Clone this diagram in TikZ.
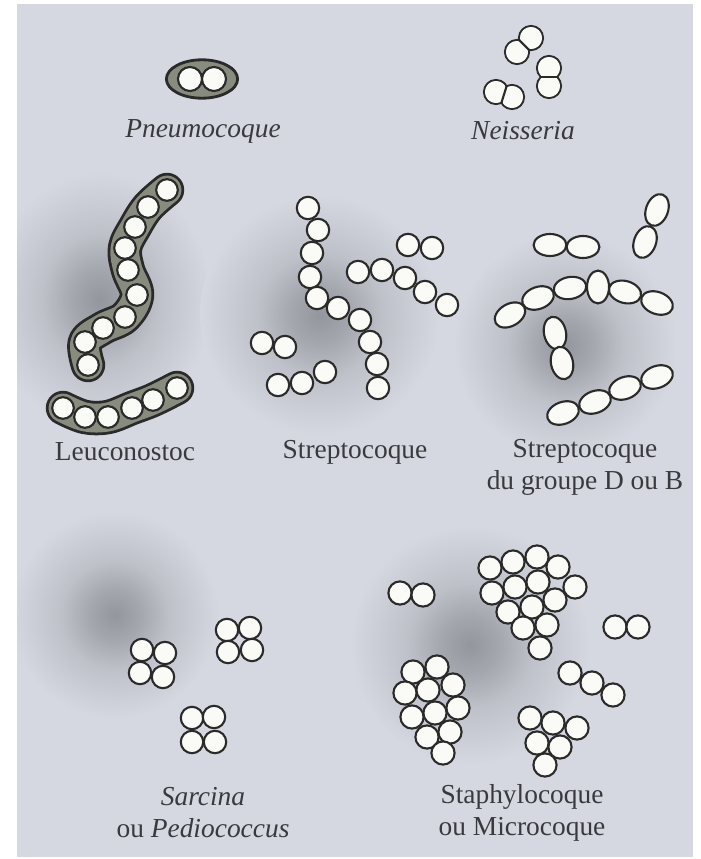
\documentclass[tikz,border=0pt]{standalone}
\usepackage{fontspec}
\setmainfont{Liberation Serif}
\usetikzlibrary{calc}
\definecolor{panel}{RGB}{213, 216, 224}
\definecolor{shadow}{RGB}{148, 150, 158}
\definecolor{rim}{RGB}{42, 42, 42}
\definecolor{slime}{RGB}{135, 140, 126}
\definecolor{cellwhite}{RGB}{250, 250, 246}
\definecolor{ink}{RGB}{58, 58, 62}
\pgfdeclareradialshading{halo}{\pgfpointorigin}{color(0bp)=(shadow); color(6bp)=(shadow!75!panel); color(13bp)=(shadow!35!panel); color(25bp)=(panel); color(50bp)=(panel)}

\tikzset{
  cell/.style    = {draw=rim, fill=cellwhite, line width=1.5pt},
  germname/.style = {text=ink, font=\fontsize{19.5}{22.7}\selectfont, align=center},
}

% a pair of flattened halves, centres (#1,#2) and (#3,#4)
\newcommand\diplo[4]{%
  \draw[cell] (#1,#2) circle (0.3cm) (#3,#4) circle (0.3cm);
  \fill[cellwhite] (#1,#2) circle (0.276cm) (#3,#4) circle (0.276cm);
  \begin{scope}
    \clip (#1,#2) circle (0.3cm) (#3,#4) circle (0.3cm);
    \draw[rim, line width=1.5pt] ($(#1,#2)!.5!(#3,#4)!1cm!90:(#3,#4)$) -- ($(#1,#2)!.5!(#3,#4)!1cm!-90:(#3,#4)$);
  \end{scope}}

\begin{document}
\begin{tikzpicture}[x=0.025cm, y=-0.025cm]
            \useasboundingbox (0,0) rectangle (701,859);
            % Plate
            \fill[panel] (17,4) rectangle (693,857);
            % Soft shadows under the groups, kept on the plate
            \begin{scope}
              \clip (17,4) rectangle (693,857);
              \shade[shading=halo] (100,300) ellipse (2.8cm and 3.2cm);
              \shade[shading=halo] (320,315) ellipse (3.0cm and 3.0cm);
              \shade[shading=halo] (565,345) ellipse (2.8cm and 2.8cm);
              \shade[shading=halo] (115,615) ellipse (2.6cm and 2.6cm);
              \shade[shading=halo] (470,645) ellipse (3.0cm and 3.0cm);
            \end{scope}

            % Pneumocoque
            \filldraw[draw=rim, fill=slime, line width=2pt] (202,79) ellipse (0.89cm and 0.48cm);
            \draw[cell] (190,79) circle (0.3cm);
            \draw[cell] (214,79) circle (0.3cm);
            \node[germname, font=\fontsize{19.5}{22.7}\selectfont\itshape] (pneumo) at (203,131) {Pneumocoque};

            % Neisseria
            \diplo{517}{52}{531}{38}
            \diplo{549}{68}{549}{86}
            \diplo{496}{92}{512}{97}
            \node[germname, font=\fontsize{19.5}{22.7}\selectfont\itshape] (neiss) at (523,131) {Neisseria};

            % Leuconostoc: chains inside a capsule
            \draw[rim, line width=0.86cm, line cap=round, line join=round]
                 plot[smooth, tension=0.6] coordinates {(167,190) (148,207) (135,227) (125,248) (128,270) (137,295) (125,317) (103,328) (85,342) (88,365)};
            \draw[slime, line width=0.72cm, line cap=round, line join=round]
                 plot[smooth, tension=0.6] coordinates {(167,190) (148,207) (135,227) (125,248) (128,270) (137,295) (125,317) (103,328) (85,342) (88,365)};
            \draw[rim, line width=0.86cm, line cap=round, line join=round]
                 plot[smooth, tension=0.6] coordinates {(63,408) (85,417) (108,417) (132,408) (153,400) (177,388)};
            \draw[slime, line width=0.72cm, line cap=round, line join=round]
                 plot[smooth, tension=0.6] coordinates {(63,408) (85,417) (108,417) (132,408) (153,400) (177,388)};
            \foreach \x/\y in {167/190, 148/207, 135/227, 125/248, 128/270, 137/295, 125/317, 103/328, 85/342, 88/365,
                               63/408, 85/417, 108/417, 132/408, 153/400, 177/388}
              \draw[cell] (\x,\y) circle (0.27cm);
            \node[germname] (leuco) at (125,452) {Leuconostoc};

            % Streptocoque
            \foreach \x/\y in {308/208, 318/230, 312/253, 310/277, 317/298, 338/308, 360/320, 370/342, 377/364, 378/388,
                               408/245, 432/248,
                               358/272, 382/270, 405/278, 425/292, 447/305,
                               262/343, 285/347,
                               278/385, 302/383, 325/372}
              \draw[cell] (\x,\y) circle (0.28cm);
            \node[germname] (strepto) at (355,452) {Streptocoque};

            % Streptocoque du groupe D ou B
            \foreach \x/\y/\a in {550/245/0, 583/247/0,
                                  657/210/70, 645/242/70,
                                  510/315/30, 538/298/20, 570/288/10, 598/287/90, 625/292/-15, 657/303/-20,
                                  555/333/-78, 562/363/-78,
                                  563/413/20, 595/402/20, 625/388/20, 657/377/20}
              \draw[cell, rotate around={\a:(\x,\y)}] (\x,\y) ellipse (0.41cm and 0.275cm);
            \node[germname] (streptoD) at (585,467) {Streptocoque\\du groupe D ou B};

            % Sarcina ou Pediococcus: tetrads
            \foreach \x/\y in {142/650, 165/653, 140/673, 163/677,
                               227/630, 250/628, 228/652, 252/650,
                               192/718, 214/717, 192/742, 215/742}
              \draw[cell] (\x,\y) circle (0.28cm);
            \node[germname] (sarcina) at (203,813) {\textit{Sarcina}\\ou \textit{Pediococcus}};

            % Staphylocoque ou Microcoque: clusters
            \foreach \x/\y in {490/568, 513/562, 537/557, 558/567, 492/593, 515/587, 538/582, 575/587,
                               508/612, 532/607, 555/600, 523/628, 547/625, 540/648,
                               400/593, 423/595,
                               615/627, 638/627,
                               570/673, 592/683, 613/695,
                               413/672, 437/667, 405/693, 428/690, 453/685, 412/717, 435/713, 458/708,
                               427/737, 450/732, 443/753,
                               530/718, 553/723, 577/728, 537/743, 560/747, 545/765}
              \draw[cell] (\x,\y) circle (0.29cm);
            \node[germname] (staphylo) at (522,813) {Staphylocoque\\ou Microcoque};
        \end{tikzpicture}
\end{document}
